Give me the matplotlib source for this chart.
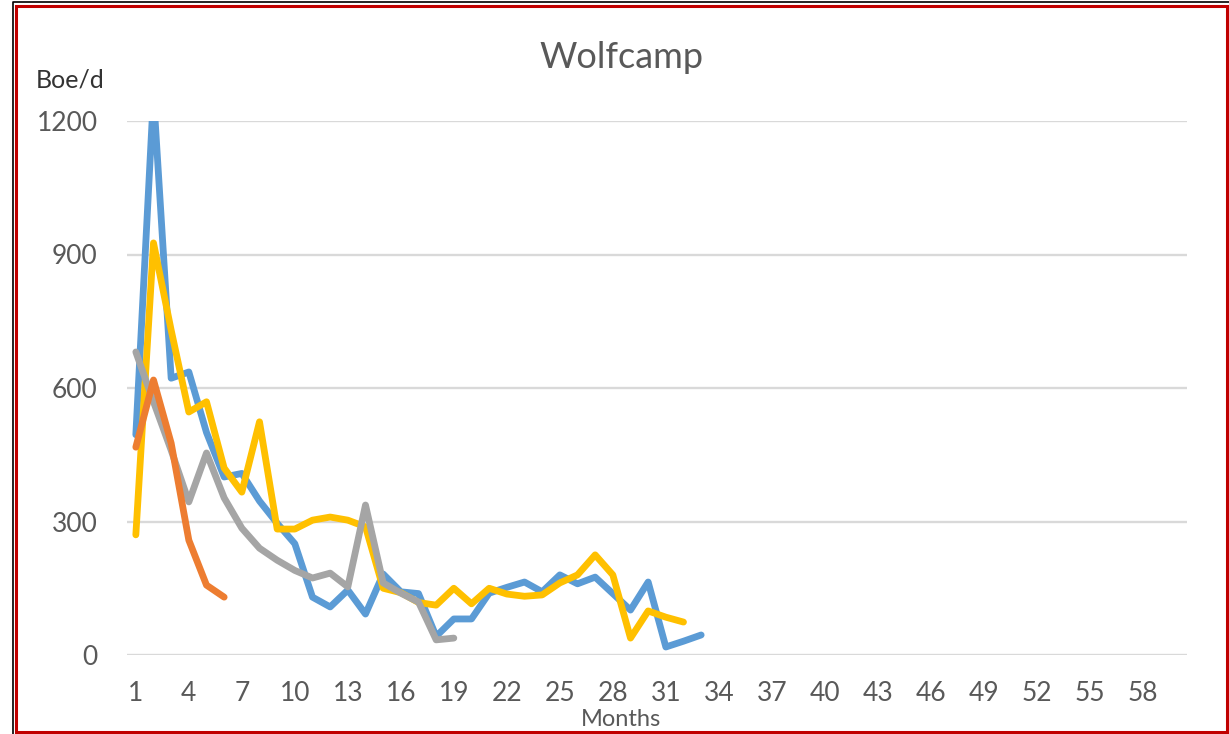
import numpy as np
import matplotlib
matplotlib.use("Agg")
import matplotlib.pyplot as plt
from matplotlib.lines import Line2D
from matplotlib.patches import Rectangle

# monthly production per well, Boe/d
blue_vals = [495, 1260, 622, 636, 500, 400, 408, 346, 296, 250, 130, 108, 146, 92, 182,
             142, 138, 42, 81, 81, 139, 152, 164, 142, 180, 160, 175, 138, 101, 164, 18, 31, 45]
orange_vals = [467, 618, 476, 258, 157, 130]
gray_vals = [681, 569, 460, 344, 454, 353, 285, 240, 213, 190, 173, 184, 153, 337, 162,
             139, 119, 34, 38]
yellow_vals = [270, 926, 730, 546, 569, 420, 366, 524, 283, 283, 303, 310, 303, 288, 150,
               140, 118, 112, 150, 115, 150, 137, 132, 135, 162, 180, 225, 180, 38, 99, 85, 74]

n_months = 60
x_ticks = list(range(1, n_months + 1, 3))
y_ticks = [0, 300, 600, 900, 1200]

text_color = "#595959"
grid_color = "#d9d9d9"
plt.rcParams["font.family"] = ["Lato", "DejaVu Sans"]

W, H = 1229, 734
fig = plt.figure(figsize=(W / 100, H / 100), dpi=100)
ax = fig.add_axes([127 / W, 1 - 655 / H, (1187 - 127) / W, (655 - 121) / H])

series = [
    (blue_vals, "#5B9BD5"),
    (yellow_vals, "#FFC000"),
    (gray_vals, "#A5A5A5"),
    (orange_vals, "#ED7D31"),
]
for vals, col in series:
    months = np.arange(1, len(vals) + 1)
    ax.plot(months, vals, color=col, lw=4.9, solid_joinstyle="round",
            solid_capstyle="round", zorder=3)

ax.set_xlim(0.5, n_months + 0.5)
ax.set_ylim(0, 1200)
ax.set_xticks(x_ticks)
ax.set_yticks(y_ticks)
ax.tick_params(axis="both", length=0, labelsize=19, colors=text_color)
ax.tick_params(axis="x", pad=19)
ax.tick_params(axis="y", pad=21)
for lbl in ax.get_yticklabels():
    lbl.set_horizontalalignment("right")
ax.grid(axis="y", color=grid_color, lw=1.7, zorder=1)
for s in ax.spines.values():
    s.set_visible(False)

fig.text(621 / W, 1 - 57 / H, "Wolfcamp", ha="center", va="center",
         fontsize=26, color=text_color)
fig.text(621 / W, 1 - 726 / H, "Months", ha="center", va="baseline",
         fontsize=17, color=text_color)
fig.text(70 / W, 1 - 80 / H, "Boe/d", ha="center", va="center",
         fontsize=18, color="#333333")

# border around the picture
fig.add_artist(Rectangle((16 / W, 1 - 732 / H), (1227 - 16) / W, (732 - 6) / H,
                         transform=fig.transFigure, fill=False, ec="#c00000", lw=2.2))
fig.add_artist(Line2D([13 / W, 13 / W, 1.0], [0, 1 - 2 / H, 1 - 2 / H],
                      transform=fig.transFigure, color="black", lw=1.2))

fig.savefig("out.png", dpi=100)
